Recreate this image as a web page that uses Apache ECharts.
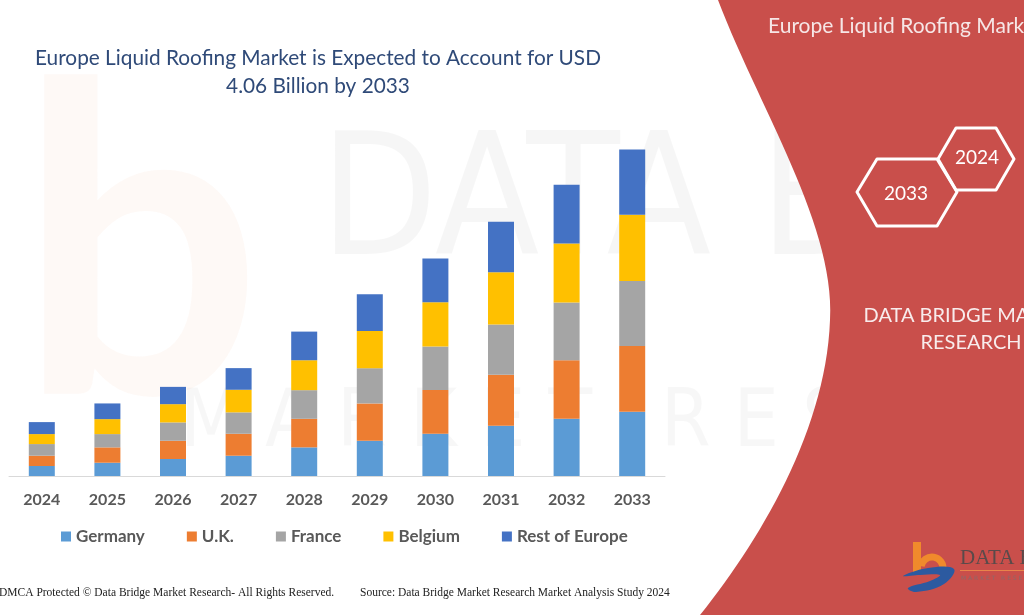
<!DOCTYPE html>
<html><head><meta charset="utf-8">
<script src="https://cdn.jsdelivr.net/npm/echarts@6/dist/echarts.min.js"></script>
<style>html,body{margin:0;padding:0;background:#fff}#c{width:1024px;height:615px}</style>
</head><body><div id="c"></div>
<script>
// USD Billion
const years = ['2024','2025','2026','2027','2028','2029','2030','2031','2032','2033'];
const germany = [0.124,0.165,0.211,0.252,0.356,0.438,0.525,0.625,0.711,0.798];
const uk      = [0.128,0.191,0.227,0.273,0.355,0.464,0.543,0.633,0.729,0.819];
const france  = [0.145,0.165,0.228,0.266,0.356,0.438,0.543,0.626,0.716,0.807];
const belgium = [0.124,0.186,0.227,0.281,0.372,0.463,0.550,0.649,0.733,0.824];
const restOfEurope = [0.149,0.195,0.215,0.269,0.356,0.456,0.543,0.629,0.733,0.811];
const seriesNames = ['Germany','U.K.','France','Belgium','Rest of Europe'];
const seriesColors = ['#5b9bd5','#ed7d31','#a5a5a5','#ffc000','#4472c4'];
const titleLines = ['Europe Liquid Roofing Market is Expected to Account for USD','4.06 Billion by 2033'];

const chart = echarts.init(document.getElementById('c'), null, {renderer:'canvas'});
const dataSets = [germany, uk, france, belgium, restOfEurope];
const FONT = 'Lato, "Open Sans", sans-serif';

// decorative outline helper: cubic bezier sampled into polygon points
function bez(p0,p1,p2,p3,n){
  const out=[];
  for(let i=0;i<=n;i++){const t=i/n,u=1-t;
    out.push([u*u*u*p0[0]+3*u*u*t*p1[0]+3*u*t*t*p2[0]+t*t*t*p3[0],
              u*u*u*p0[1]+3*u*u*t*p1[1]+3*u*t*t*p2[1]+t*t*t*p3[1]]);}
  return out;
}
const redEdge = bez([718,0],[760,110],[835,225],[830,320],30).concat(bez([830,320],[826,430],[760,540],[700,615],30).slice(1));
const redPanel = redEdge.concat([[1024,615],[1024,0]]);

function hex(pts){ return {type:'polygon', shape:{points:pts}, style:{fill:'none', stroke:'#ffffff', lineWidth:3, lineJoin:'round'}, z:6}; }

const graphics = [
  // faint watermarks
  {type:'text', x:18, y:40, z:0, style:{text:'b', font:'bold 430px Lato, sans-serif', fill:'rgba(237,125,49,0.045)'}},
  {type:'text', x:320, y:125, z:0, style:{text:'DATA BRIDGE', font:'170px "DejaVu Sans Condensed", sans-serif', fill:'rgba(0,0,0,0.035)'}},
  {type:'text', x:180, y:385, z:0, style:{text:'M A R K E T   R E S E A R C H', font:'80px "DejaVu Sans Condensed", sans-serif', fill:'rgba(0,0,0,0.03)'}},
  // red panel
  {type:'polygon', z:5, shape:{points:redPanel}, style:{fill:'#c94f4b'}},
  {type:'text', z:6, x:768, y:26, style:{text:'Europe Liquid Roofing Market', font:'21px '+FONT, fill:'#f6e6e6', textVerticalAlign:'middle'}},
  hex([[857,192],[877,159],[937,159],[957,192],[937,226],[877,226]]),
  hex([[938,159],[956,128],[996,128],[1014,159],[996,190],[956,190]]),
  {type:'text', z:6, x:906, y:194, style:{text:'2033', font:'19px '+FONT, fill:'#ffffff', textAlign:'center', textVerticalAlign:'middle'}},
  {type:'text', z:6, x:977, y:158, style:{text:'2024', font:'19px '+FONT, fill:'#ffffff', textAlign:'center', textVerticalAlign:'middle'}},
  {type:'text', z:6, x:971, y:316, style:{text:'DATA BRIDGE MARKET', font:'20px '+FONT, fill:'#f8ecec', textAlign:'center', textVerticalAlign:'middle'}},
  {type:'text', z:6, x:971, y:343, style:{text:'RESEARCH', font:'20px '+FONT, fill:'#f8ecec', textAlign:'center', textVerticalAlign:'middle'}},
  // bottom-right logo
  {type:'rect', z:7, shape:{x:913,y:542,width:8,height:30}, style:{fill:'#f08a2c'}},
  {type:'arc', z:7, shape:{cx:932,cy:568,r:11,startAngle:-Math.PI*0.95,endAngle:0.1}, style:{stroke:'#f08a2c', lineWidth:7, fill:'none'}},
  {type:'polygon', z:7, shape:{smooth:0.4, points:[[903,576],[928,568],[954,569],[944,584],[916,592],[908,588],[930,581],[940,575],[920,575]]}, style:{fill:'#2c5aa0'}},
  {type:'text', z:7, x:960, y:558, style:{text:'DATA BRIDGE', font:'21px "Liberation Serif", serif', fill:'#5a4a4a', textVerticalAlign:'middle'}},
  {type:'rect', z:7, shape:{x:960,y:570,width:64,height:1}, style:{fill:'#e8844a'}},
  {type:'text', z:7, x:961, y:578, style:{text:'M A R K E T   R E S E A R C H', font:'6px "DejaVu Sans", sans-serif', fill:'#8a6a6a', textVerticalAlign:'middle'}},
  // title
  {type:'text', z:6, x:318, y:58, style:{text:titleLines[0], font:'20.8px '+FONT, fill:'#2f4a78', textAlign:'center', textVerticalAlign:'middle'}},
  {type:'text', z:6, x:318, y:86, style:{text:titleLines[1], font:'20.8px '+FONT, fill:'#2f4a78', textAlign:'center', textVerticalAlign:'middle'}},
  // footer
  {type:'text', z:6, x:-1, y:593, style:{text:'DMCA Protected \u00a9 Data Bridge Market Research- All Rights Reserved.', font:'11.5px "Liberation Serif", serif', fill:'#222', textVerticalAlign:'middle'}},
  {type:'text', z:6, x:360, y:593, style:{text:'Source: Data Bridge Market Research Market Analysis Study 2024', font:'11.5px "Liberation Serif", serif', fill:'#222', textVerticalAlign:'middle'}}
];

chart.setOption({
  backgroundColor:'#ffffff',
  animation:false,
  color: seriesColors,
  grid:{left:9, right:359, top:114, bottom:139, containLabel:false},
  legend:{
    left:56, top:523, itemGap:42, itemWidth:10, itemHeight:10, icon:'rect',
    data: seriesNames,
    textStyle:{fontFamily:FONT, fontSize:17, fontWeight:'bold', color:'#595959'}
  },
  xAxis:{
    type:'category', data: years,
    axisLine:{lineStyle:{color:'#d9d9d9', width:1}},
    axisTick:{show:false},
    axisLabel:{margin:16, fontFamily:FONT, fontSize:16, fontWeight:'bold', color:'#595959'}
  },
  yAxis:{type:'value', min:0, max:4.5, show:false, splitLine:{show:false}},
  graphic: graphics,
  series: dataSets.map((d,i)=>({
    name: seriesNames[i], type:'bar', stack:'total', data:d, barWidth:26,
    itemStyle:{color: seriesColors[i]}
  }))
});
</script></body></html>
